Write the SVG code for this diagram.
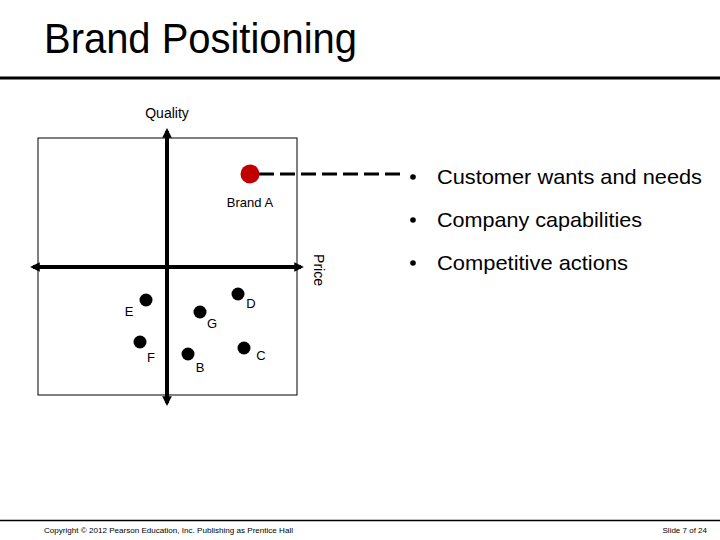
<svg xmlns="http://www.w3.org/2000/svg" width="720" height="540" viewBox="0 0 720 540">
<defs>
<style>
.t{font-family:"Liberation Sans",Arial,sans-serif;fill:#000}
.lbl{font-size:13px;text-anchor:middle}
.bul{font-size:21px}
.dot{fill:#000}
.axis{stroke:#000;stroke-width:4;fill:none}
</style>
<marker id="ah" viewBox="0 0 10 10" refX="7" refY="5" markerWidth="2.4" markerHeight="2.4" orient="auto" markerUnits="strokeWidth">
<path d="M0,0 L10,5 L0,10 Z" fill="#000"/>
</marker>
</defs>
<rect width="720" height="540" fill="#fff"/>
<g id="title">
<text class="t" x="44" y="53" font-size="43" textLength="313" lengthAdjust="spacingAndGlyphs">Brand Positioning</text>
<line x1="0" y1="78" x2="720" y2="78" stroke="#000" stroke-width="3"/>
</g>
<g id="frame">
<rect x="38" y="138" width="259" height="257" fill="none" stroke="#000" stroke-width="1"/>
</g>
<g id="connectors">
<line class="axis" x1="167" y1="267" x2="33" y2="267" marker-end="url(#ah)"/>
<line class="axis" x1="167" y1="267" x2="301" y2="267" marker-end="url(#ah)"/>
<line class="axis" x1="167" y1="267" x2="167" y2="131" marker-end="url(#ah)"/>
<line class="axis" x1="167" y1="267" x2="167" y2="403" marker-end="url(#ah)"/>
<line x1="259" y1="174" x2="402" y2="174" stroke="#000" stroke-width="3" stroke-dasharray="15 6"/>
</g>
<g id="axis-labels">
<text class="t" x="167" y="118" font-size="14" text-anchor="middle">Quality</text>
<text class="t" font-size="14" text-anchor="middle" transform="translate(314,270) rotate(90)">Price</text>
</g>
<g id="brandA">
<circle cx="250" cy="174" r="9.5" fill="#c00000"/>
<text class="t lbl" x="250" y="207">Brand A</text>
</g>
<g id="E"><circle class="dot" cx="146" cy="300" r="6.5"/><text class="t lbl" x="129" y="316">E</text></g>
<g id="G"><circle class="dot" cx="200" cy="312" r="6.5"/><text class="t lbl" x="212" y="328">G</text></g>
<g id="D"><circle class="dot" cx="238" cy="294" r="6.5"/><text class="t lbl" x="251" y="308">D</text></g>
<g id="F"><circle class="dot" cx="140" cy="342" r="6.5"/><text class="t lbl" x="151" y="362">F</text></g>
<g id="B"><circle class="dot" cx="188" cy="354" r="6.5"/><text class="t lbl" x="200" y="372">B</text></g>
<g id="C"><circle class="dot" cx="244" cy="348" r="6.5"/><text class="t lbl" x="261" y="360">C</text></g>
<g id="bullets">
<circle cx="413" cy="177" r="2.8"/>
<text class="t bul" x="437" y="184" textLength="265" lengthAdjust="spacingAndGlyphs">Customer wants and needs</text>
<circle cx="413" cy="220" r="2.8"/>
<text class="t bul" x="437" y="227" textLength="205" lengthAdjust="spacingAndGlyphs">Company capabilities</text>
<circle cx="413" cy="263" r="2.8"/>
<text class="t bul" x="437" y="270" textLength="191" lengthAdjust="spacingAndGlyphs">Competitive actions</text>
</g>
<g id="footer">
<line x1="0" y1="520.5" x2="720" y2="520.5" stroke="#000" stroke-width="1.5"/>
<text class="t" x="44" y="533" font-size="8" textLength="249" lengthAdjust="spacingAndGlyphs">Copyright © 2012 Pearson Education, Inc. Publishing as Prentice Hall</text>
<text class="t" x="707" y="533" font-size="8" text-anchor="end">Slide 7 of 24</text>
</g>
</svg>
